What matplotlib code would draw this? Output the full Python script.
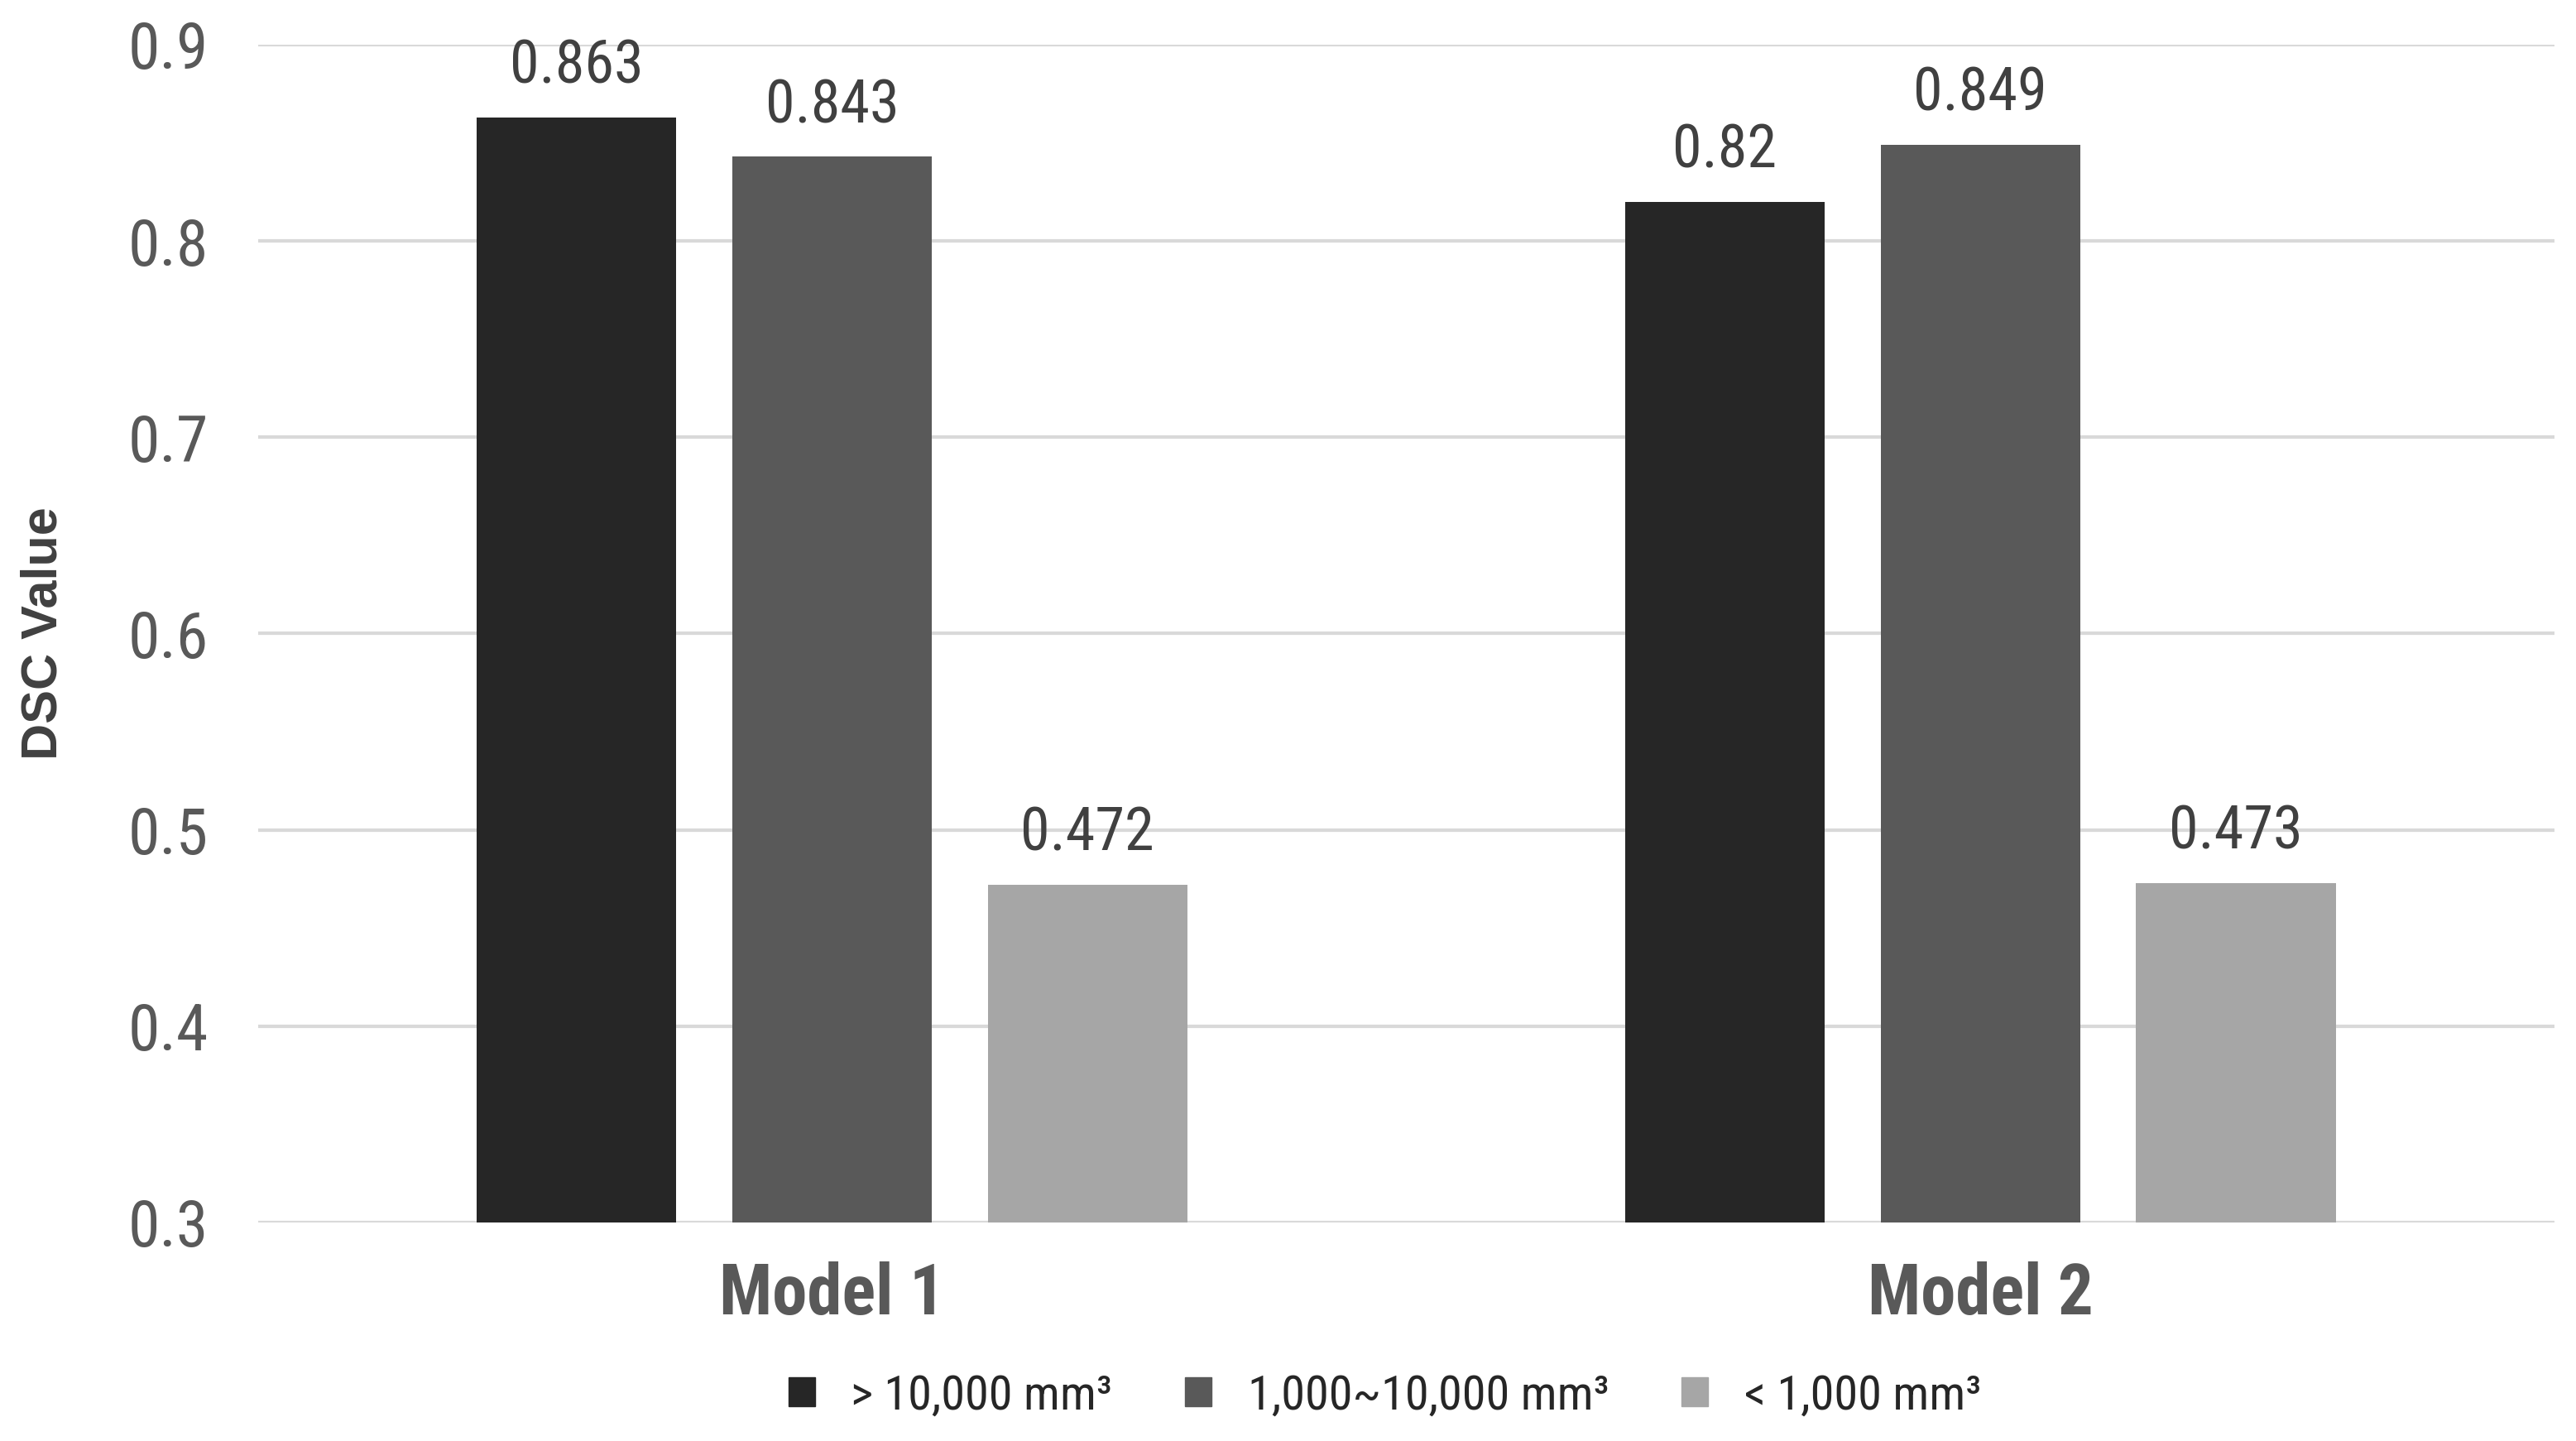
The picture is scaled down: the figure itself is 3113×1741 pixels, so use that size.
import numpy as np
import matplotlib.pyplot as plt
from matplotlib.patches import Patch

plt.rcParams['font.family'] = ['Roboto Condensed', 'Liberation Sans', 'DejaVu Sans']

models = ['Model 1', 'Model 2']
series = ['> 10,000 mm³', '1,000~10,000 mm³', '< 1,000 mm³']
large = [0.863, 0.82]
medium = [0.843, 0.849]
small = [0.472, 0.473]
colors = ['#262626', '#595959', '#a6a6a6']

fig = plt.figure(figsize=(31.13, 17.41), dpi=100)
ax = fig.add_axes([0.1001, 0.1517, 0.8916, 0.8173])

x = np.arange(len(models))
w = 0.174
step = 0.2225
for i, (vals, c) in enumerate(zip([large, medium, small], colors)):
    bars = ax.bar(x + (i - 1) * step, vals, width=w, color=c, zorder=3)
    for b, v in zip(bars, vals):
        ax.text(b.get_x() + b.get_width() / 2, v + 0.011, f'{v:g}',
                ha='center', va='bottom', fontsize=52, color='#404040', clip_on=False)

ax.set_xlim(-0.5, 1.5)
ax.set_ylim(0.3, 0.9)
ax.set_yticks(np.arange(0.3, 0.91, 0.1))
ax.set_yticklabels([f'{t:.1f}' for t in np.arange(0.3, 0.91, 0.1)])
ax.set_xticks(x)
ax.set_xticklabels(models, fontsize=61, color='#595959', fontweight='bold')
ax.tick_params(axis='y', length=0, pad=43, labelsize=56, labelcolor='#595959')
ax.tick_params(axis='x', length=0, pad=34)
ax.grid(axis='y', color='#d9d9d9', linewidth=3, zorder=0)
for s in ax.spines.values():
    s.set_visible(False)

ax.set_ylabel('DSC Value', fontsize=44, fontweight='bold', color='#404040',
              family=['Liberation Sans', 'DejaVu Sans'])
ax.yaxis.set_label_coords(-0.083, 0.5)

handles = [Patch(color=c) for c in colors]
fig.legend(handles, series, loc='center', bbox_to_anchor=(0.5376, 0.031), ncol=3,
           frameon=False, fontsize=42, handlelength=0.55, handleheight=0.55,
           handletextpad=0.75, columnspacing=1.5, labelcolor='#262626')

plt.savefig('out.png', dpi=100)
